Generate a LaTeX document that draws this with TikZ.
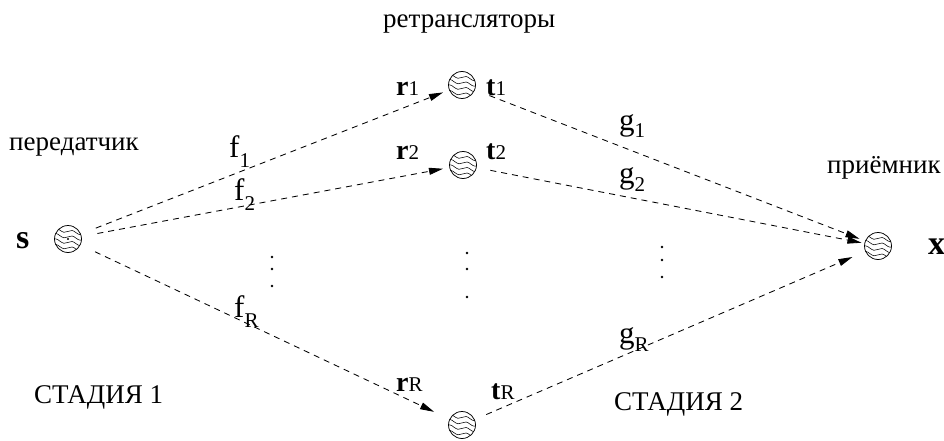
\documentclass[tikz,border=0pt]{standalone}
\usepackage{fontspec}
\setmainfont{Liberation Serif}
\usetikzlibrary{arrows.meta}
\newcommand{\txtsize}{\fontsize{27}{32}\selectfont}
\newcommand{\fgsize}{\fontsize{31}{35}\selectfont}
\newcommand{\subsize}{\fontsize{21}{23}\selectfont}
\newcommand{\rtsize}{\fontsize{28}{32}\selectfont}
\newcommand{\rtsub}{\fontsize{21}{23}\selectfont}
\newcommand{\lowlab}[3]{{\fgsize #1}\raisebox{-#3pt}{\subsize #2}}
\newcommand{\rtlab}[2]{{\rtsize\bfseries #1}{\rtsub #2}}
\begin{document}
\begin{tikzpicture}[x=1pt,y=-1pt,
  relay/.style={circle,draw,line width=0.75pt,minimum size=27pt,inner sep=0pt,
    path picture={
      \begin{scope}[shift={(path picture bounding box.center)}]
      \foreach \dy in {-10,-4.5,1,6.5}{
        \draw[line width=0.55pt]
          (-16,\dy) .. controls (-13,{\dy-2}) and (-11,{\dy-1.2}) .. (-8,{\dy+1.2})
          .. controls (-5,{\dy+3.6}) and (-3,{\dy+4}) .. (0,{\dy+2.4})
          .. controls (3,{\dy+0.8}) and (5,{\dy+1.2}) .. (8,{\dy+3.6})
          .. controls (11,{\dy+6}) and (13,{\dy+6.4}) .. (16,{\dy+4.8});
      }
      \end{scope}}},
  conn/.style={line width=0.85pt,dash pattern=on 6pt off 5pt,
    -{Triangle[length=14pt,width=7pt]}},
  lab/.style={anchor=base west,inner sep=0pt}]
\useasboundingbox (0,0) rectangle (944,441);
\fill[white] (0,0) rectangle (944,441);
% relay nodes
\node[relay] (s) at (68,239) {};
\fill (s.center) circle (1.2pt);
\node[relay] (r1) at (462,85) {};
\node[relay] (r2) at (463,165) {};
\node[relay] (rR) at (462,425) {};
\node[relay] (x) at (878,246) {};
% connectors
\draw[conn,shorten <=16pt,shorten >=6.5pt] (s) -- (r1);
\draw[conn,shorten <=16pt,shorten >=6.5pt] (s) -- (r2);
\draw[conn,shorten <=16pt,shorten >=17pt] (s) -- (rR);
\draw[conn,shorten <=15.5pt,shorten >=6pt] (r1) -- (x);
\draw[conn,shorten <=14pt,shorten >=3pt] (r2) -- (x);
\draw[conn,shorten <=12.5pt,shorten >=14pt] (rR) -- (x);
% node labels
\node[lab] (ls) at (16,248) {\fontsize{34}{36}\selectfont\bfseries s};
\node[lab] (lx) at (928,254) {\fontsize{34}{36}\selectfont\bfseries x};
\node[lab] (lr1) at (396,96) {\rtlab{r}{1}};
\node[lab] (lt1) at (486,96) {\rtlab{t}{1}};
\node[lab] (lr2) at (396,159) {\rtlab{r}{2}};
\node[lab] (lt2) at (486,159) {\rtlab{t}{2}};
\node[lab] (lrR) at (396,391) {\rtlab{r}{R}};
\node[lab] (ltR) at (491,399) {\rtlab{t}{R}};
% channel labels
\node[lab] (f1) at (229,157) {\lowlab{f}{1}{10}};
\node[lab] (f2) at (234,200) {\lowlab{f}{2}{10}};
\node[lab] (fR) at (234,317) {\lowlab{f}{R}{10}};
\node[lab] (g1) at (619,130) {\lowlab{g}{1}{7}};
\node[lab] (g2) at (619,183) {\lowlab{g}{2}{8}};
\node[lab] (gR) at (619,343) {\lowlab{g}{R}{8}};
% dots
\foreach \px/\py in {272/257,272/269,272/286,467/253,467/269,467/297,662/247,662/260,662/277}
  \fill (\px,\py) circle (1.4pt);
% texts
\node[lab] (tr) at (383,28) {\txtsize ретрансляторы};
\node[lab] (tp) at (9,150) {\txtsize передатчик};
\node[lab] (tq) at (827,173) {\txtsize приёмник};
\node[lab] (st1) at (34,403) {\txtsize СТАДИЯ 1};
\node[lab] (st2) at (614,410) {\txtsize СТАДИЯ 2};
\end{tikzpicture}
\end{document}
